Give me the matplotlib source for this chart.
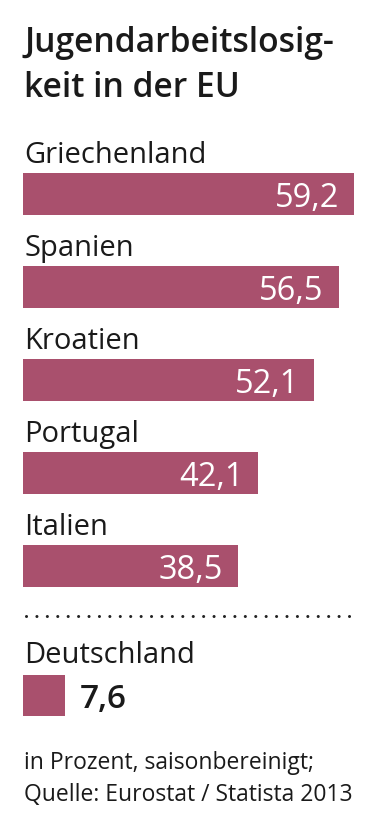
import matplotlib
matplotlib.use("Agg")
import matplotlib.pyplot as plt

# data
countries = ["Griechenland", "Spanien", "Kroatien", "Portugal", "Italien"]
values = [59.2, 56.5, 52.1, 42.1, 38.5]
de_label = "Deutschland"
de_value = 7.6
title = "Jugendarbeitslosig-\nkeit in der EU"
note = "in Prozent, saisonbereinigt;\nQuelle: Eurostat / Statista 2013"

BAR = "#a9506d"
FONT = "Open Sans"
W, H = 378, 827
PX_PER_UNIT = 5.59
LEFT = 23

fig = plt.figure(figsize=(W / 100, H / 100), dpi=100)
ax = fig.add_axes([0, 0, 1, 1])
ax.set_xlim(-LEFT / PX_PER_UNIT, (W - LEFT) / PX_PER_UNIT)
ax.set_ylim(H, 0)
ax.axis("off")


def fx(x):
    return x / W


def fy(y):
    return 1 - y / H


# title
fig.text(fx(24), fy(52), title.split("\n")[0], fontsize=24.2, fontweight="semibold",
         family=FONT, va="baseline", color="#1a1a1a")
fig.text(fx(24), fy(97), title.split("\n")[1], fontsize=24.2, fontweight="semibold",
         family=FONT, va="baseline", color="#1a1a1a")

# bars
centers = [194 + 93 * i for i in range(len(values))]
ax.barh(centers, values, height=42, color=BAR, left=0)
for c, name, v in zip(centers, countries, values):
    fig.text(fx(24), fy(c - 21 - 10), name, fontsize=21, family=FONT,
             va="baseline", color="#1a1a1a")
    ax.annotate(f"{v:.1f}".replace(".", ","), xy=(v, c + 13),
                xytext=(-15, 0), textcoords="offset pixels",
                ha="right", va="baseline", color="white",
                fontsize=23.5, family=FONT)

# dotted separator
fig.add_artist(plt.Line2D([fx(26), fx(350)], [fy(616), fy(616)],
                          color="#222222", linewidth=2.2,
                          linestyle=(0, (0.01, 3.4)),
                          dash_capstyle="round"))

# Deutschland
de_c = 695.5
fig.text(fx(24), fy(663), de_label, fontsize=21, family=FONT,
         va="baseline", color="#1a1a1a")
ax.barh([de_c], [de_value], height=41, color=BAR)
ax.annotate(f"{de_value:.1f}".replace(".", ","), xy=(de_value, de_c + 12),
            xytext=(14, 0), textcoords="offset pixels",
            ha="left", va="baseline", color="#1a1a1a",
            fontsize=24, fontweight="semibold", family=FONT)

# footer
for i, line in enumerate(note.split("\n")):
    fig.text(fx(24), fy(769 + 32 * i), line, fontsize=16.5, family=FONT,
             va="baseline", color="#1a1a1a")

fig.savefig("out.png", dpi=100, facecolor="white")
